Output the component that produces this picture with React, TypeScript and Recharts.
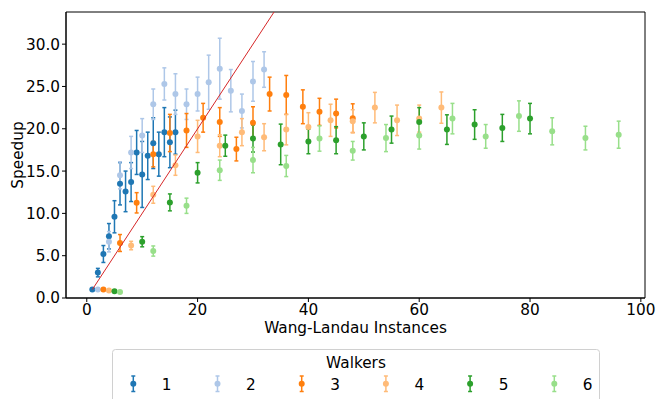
import React from "react";
import { ScatterChart, Scatter, XAxis, YAxis, ErrorBar, ReferenceArea } from "recharts";

// walkers per series, tab20 pairs
const walkers = ["1", "2", "3", "4", "5", "6"];
const colors = ["#1f77b4", "#aec7e8", "#ff7f0e", "#ffbb78", "#2ca02c", "#98df8a"];

const inst1 = [1, 2, 3, 4, 5, 6, 7, 8, 9, 10, 11, 12, 13, 14, 15, 16];
const speed1 = [1.0, 3.0, 5.2, 7.3, 9.6, 13.5, 12.6, 13.7, 17.2, 14.6, 16.8, 18.3, 17.0, 19.6, 18.4, 19.6];
const err1 = [0.1, 0.5, 1.0, 1.5, 1.9, 2.5, 2.4, 2.3, 2.6, 3.9, 2.8, 3.0, 2.6, 2.9, 3.0, 2.6];

const inst2 = [2, 4, 6, 8, 10, 12, 14, 16, 18, 20, 22, 24, 26, 28, 30, 32];
const speed2 = [1.0, 6.65, 14.5, 17.2, 19.2, 22.9, 25.3, 24.1, 22.9, 24.1, 25.5, 27.1, 24.5, 22.1, 25.6, 27.0];
const err2 = [0.05, 1.2, 1.6, 1.9, 2.0, 1.8, 1.9, 2.4, 1.8, 2.0, 3.2, 3.6, 2.5, 2.0, 2.35, 2.1];

const inst3 = [3, 6, 9, 12, 15, 18, 21, 24, 27, 30, 33, 36, 39, 42, 45, 48];
const speed3 = [1.0, 6.5, 11.25, 17.0, 19.5, 19.8, 21.3, 20.8, 17.6, 20.7, 24.1, 24.0, 22.6, 22.0, 21.8, 21.25];
const err3 = [0.05, 1.0, 1.2, 1.5, 2.2, 2.0, 1.7, 1.7, 1.4, 1.9, 2.0, 2.3, 2.0, 1.6, 1.7, 1.7];

const inst4 = [4, 8, 12, 16, 20, 24, 28, 32, 36, 40, 44, 48, 52, 56, 60, 64];
const speed4 = [0.9, 6.2, 12.2, 15.7, 19.1, 18.0, 19.6, 19.0, 19.9, 20.2, 21.0, 20.9, 22.5, 21.0, 21.2, 22.5];
const err4 = [0.05, 0.5, 1.0, 1.2, 1.9, 1.3, 1.6, 1.6, 1.8, 1.7, 1.9, 1.35, 1.8, 1.8, 1.6, 1.85];

const inst5 = [5, 10, 15, 20, 25, 30, 35, 40, 45, 50, 55, 60, 65, 70, 75, 80];
const speed5 = [0.8, 6.65, 11.3, 14.8, 18.0, 18.85, 18.15, 18.5, 18.65, 19.1, 19.9, 20.8, 19.9, 20.5, 20.1, 21.2];
const err5 = [0.05, 0.6, 1.0, 1.2, 1.25, 1.6, 2.4, 1.45, 1.6, 1.6, 1.6, 1.7, 1.75, 1.75, 1.6, 1.8];

const inst6 = [6, 12, 18, 24, 30, 36, 42, 48, 54, 60, 66, 72, 78, 84, 90, 96];
const speed6 = [0.7, 5.55, 10.9, 15.1, 16.3, 15.6, 18.85, 17.4, 18.9, 19.2, 21.2, 19.1, 21.5, 19.7, 18.9, 19.3];
const err6 = [0.05, 0.6, 0.9, 1.2, 1.5, 1.25, 1.5, 1.1, 1.6, 1.6, 1.8, 1.4, 1.8, 1.6, 1.4, 1.6];

// ideal speedup, y = x
const idealInst = [1, 96];
const idealSpeed = [1, 96];

const xTicks = [0, 20, 40, 60, 80, 100];
const yTicks = [0, 5, 10, 15, 20, 25, 30];
const xDomain = [-3.75, 100.75];
const yDomain = [0, 33.8];

const seriesRaw = [
  [inst1, speed1, err1],
  [inst2, speed2, err2],
  [inst3, speed3, err3],
  [inst4, speed4, err4],
  [inst5, speed5, err5],
  [inst6, speed6, err6],
];

const series = seriesRaw.map(([xs, ys, es]) =>
  xs.map((x, i) => ({ x, y: ys[i], err: es[i] }))
);
const idealData = idealInst.map((x, i) => ({ x, y: idealSpeed[i] }));

const FONT = "DejaVu Sans, sans-serif";
const FS = 15.3;

function Dot(color: string) {
  return (props: any) => <circle cx={props.cx} cy={props.cy} r={3} fill={color} />;
}

function LegendBox() {
  const x0 = 133.3;
  const step = 84.2;
  return (
    <svg width={656} height={399} style={{ position: "absolute", left: 0, top: 0, pointerEvents: "none" }}>
      <rect x={112.5} y={349.5} width={487} height={60} rx={3} fill="#fff" stroke="#d0d0d0" />
      <text x={356} y={367.5} textAnchor="middle" fontFamily={FONT} fontSize={FS} fill="#000">
        Walkers
      </text>
      {walkers.map((w, i) => {
        const cx = x0 + step * i;
        return (
          <g key={w}>
            <line x1={cx} x2={cx} y1={376} y2={391.5} stroke={colors[i]} strokeWidth={1.5} />
            <line x1={cx - 2} x2={cx + 2} y1={376} y2={376} stroke={colors[i]} strokeWidth={1.5} />
            <line x1={cx - 2} x2={cx + 2} y1={391.5} y2={391.5} stroke={colors[i]} strokeWidth={1.5} />
            <circle cx={cx} cy={383.7} r={3} fill={colors[i]} />
            <text x={cx + 33.4} y={389.5} textAnchor="middle" fontFamily={FONT} fontSize={FS} fill="#000">
              {w}
            </text>
          </g>
        );
      })}
    </svg>
  );
}

export default function App() {
  return (
    <div
      style={{
        position: "absolute",
        left: 0,
        top: 0,
        width: 656,
        height: 399,
        background: "#fff",
        overflow: "hidden",
        fontFamily: FONT,
      }}
    >
      <ScatterChart width={656} height={399} margin={{ top: 12, right: 11, bottom: 61, left: 0 }}>
        <XAxis
          type="number"
          dataKey="x"
          domain={xDomain}
          ticks={xTicks}
          allowDataOverflow
          height={40}
          tickSize={4}
          tickMargin={2}
          stroke="#000"
          tick={{ fill: "#000", fontSize: FS, fontFamily: FONT }}
          label={{ value: "Wang-Landau Instances", position: "center", dy: 10, fill: "#000", fontSize: FS, fontFamily: FONT }}
        />
        <YAxis
          type="number"
          dataKey="y"
          domain={yDomain}
          ticks={yTicks}
          allowDataOverflow
          width={66}
          tickSize={4}
          tickMargin={2}
          stroke="#000"
          tickFormatter={(v: number) => v.toFixed(1)}
          tick={{ fill: "#000", fontSize: FS, fontFamily: FONT }}
          label={{ value: "Speedup", angle: -90, position: "center", dx: -15, fill: "#000", fontSize: FS, fontFamily: FONT }}
        />
        <ReferenceArea x1={xDomain[0]} x2={xDomain[1]} y1={yDomain[0]} y2={yDomain[1]} fill="none" stroke="#000" strokeWidth={1} />
        {series.map((data, i) => (
          <Scatter key={walkers[i]} data={data} fill={colors[i]} shape={Dot(colors[i])} isAnimationActive={false}>
            <ErrorBar dataKey="err" direction="y" width={2} stroke={colors[i]} strokeWidth={1.5} isAnimationActive={false} />
          </Scatter>
        ))}
        <Scatter
          data={idealData}
          line={{ stroke: "#d62728", strokeWidth: 1 }}
          shape={() => <g />}
          isAnimationActive={false}
        />
      </ScatterChart>
      <LegendBox />
    </div>
  );
}
